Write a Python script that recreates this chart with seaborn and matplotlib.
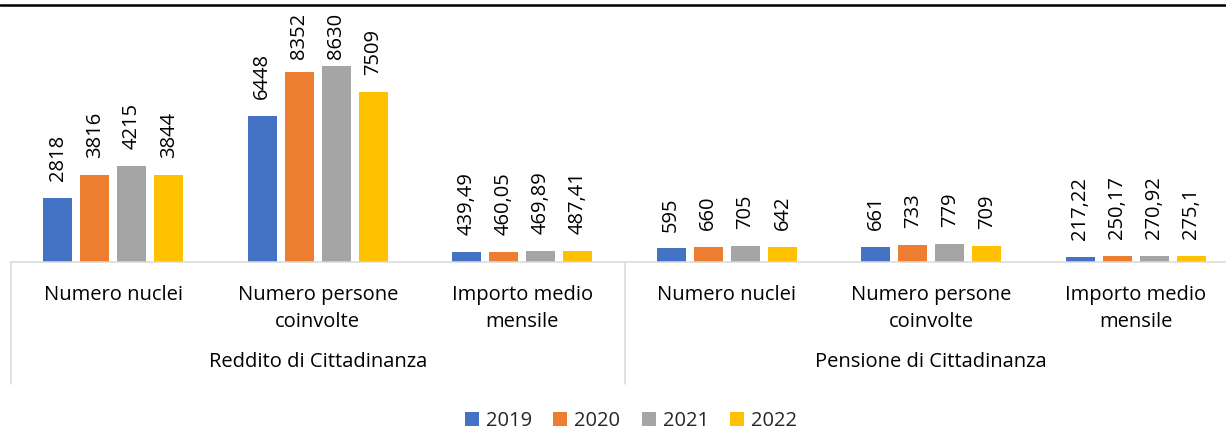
import numpy as np
import pandas as pd
import matplotlib
matplotlib.use("Agg")
import matplotlib.pyplot as plt
import matplotlib.transforms as mtransforms
from matplotlib.lines import Line2D
from matplotlib.patches import Patch
import seaborn as sns

# ---------------- data ----------------
years = ["2019", "2020", "2021", "2022"]
groups = ["Reddito di Cittadinanza", "Pensione di Cittadinanza"]
measures = ["Numero nuclei", "Numero persone\ncoinvolte", "Importo medio\nmensile"]
v2019 = [2818, 6448, 439.49, 595, 661, 217.22]
v2020 = [3816, 8352, 460.05, 660, 733, 250.17]
v2021 = [4215, 8630, 469.89, 705, 779, 270.92]
v2022 = [3844, 7509, 487.41, 642, 709, 275.1]
colors = ["#4472C4", "#ED7D31", "#A5A5A5", "#FFC000"]

series = {"2019": v2019, "2020": v2020, "2021": v2021, "2022": v2022}
keys = [f"{g}|{m}" for g in groups for m in measures]
rows = []
for y in years:
    for k, v in zip(keys, series[y]):
        rows.append({"key": k, "year": y, "value": v})
df = pd.DataFrame(rows)

# ---------------- style ----------------
sns.set_style("white")
plt.rcParams["font.family"] = ["Open Sans", "DejaVu Sans"]
FS = 14.5
W, H = 1226, 430

fig = plt.figure(figsize=(W / 100, H / 100), dpi=100)
ax_left, ax_right, ax_base, ax_top = 11, 1238, 262, 35
ax = fig.add_axes([ax_left / W, (H - ax_base) / H, (ax_right - ax_left) / W, (ax_base - ax_top) / H])

sns.barplot(data=df, x="key", y="value", hue="year", order=keys, hue_order=years,
            palette=colors, width=0.7255, gap=0.216, saturation=1, errorbar=None,
            legend=False, linewidth=0, ax=ax)

ax.set_xlim(-0.5, len(keys) - 0.5)
ax.set_ylim(0, 10000)
ax.set_xlabel("")
ax.set_ylabel("")
ax.set_xticks([])
ax.set_yticks([])
for s in ["top", "left", "right"]:
    ax.spines[s].set_visible(False)
ax.spines["bottom"].set_color("#D9D9D9")
ax.spines["bottom"].set_linewidth(1.1)
ax.patch.set_alpha(0)

# value labels
def fmt(v):
    s = f"{v:g}"
    return s.replace(".", ",")

off_pt = 12.2
anns = []
for cont in ax.containers:
    for bar in cont:
        h = bar.get_height()
        a = ax.annotate(fmt(h), (bar.get_x() + bar.get_width() / 2, h),
                        xytext=(0, off_pt), textcoords="offset points",
                        rotation=90, ha="center", va="bottom", fontsize=FS,
                        color="black", annotation_clip=False)
        anns.append(a)

fig.canvas.draw()
renderer = fig.canvas.get_renderer()
limit = H - 13
for a in anns:
    bb = a.get_window_extent(renderer)
    if bb.y1 > limit:
        d = (bb.y1 - limit) * 72 / 100
        a.xyann = (0, off_pt - d)

# category labels (multi-level axis)
trans = mtransforms.blended_transform_factory(ax.transData, fig.transFigure)
for i, k in enumerate(keys):
    m = k.split("|")[1]
    ax.text(i, 1 - 285 / H, m, transform=trans, ha="center", va="top",
            fontsize=FS, linespacing=1.48, color="black")
for gi, g in enumerate(groups):
    xc = gi * len(measures) + (len(measures) - 1) / 2
    ax.text(xc, 1 - 367 / H, g, transform=trans, ha="center", va="baseline",
            fontsize=FS, color="black")

# group separators
for xs in [-0.5, 2.5, 5.5]:
    ln = Line2D([xs, xs], [1 - ax_base / H, 1 - 384 / H], transform=trans,
                color="#D9D9D9", lw=1.1, clip_on=False)
    fig.add_artist(ln)

# top border line
fig.add_artist(Line2D([0, 1], [1 - 4.7 / H, 1 - 4.7 / H], transform=fig.transFigure,
                      color="black", lw=1.8))

# legend
handles = [Patch(facecolor=c, edgecolor="none") for c in colors]
fig.legend(handles, years, loc="center", bbox_to_anchor=(631 / W, 1 - 421 / H),
           ncol=4, frameon=False, fontsize=FS, handlelength=0.7, handleheight=0.7,
           handletextpad=0.35, columnspacing=1.05, borderpad=0, borderaxespad=0)

fig.savefig("out.png", dpi=100)
